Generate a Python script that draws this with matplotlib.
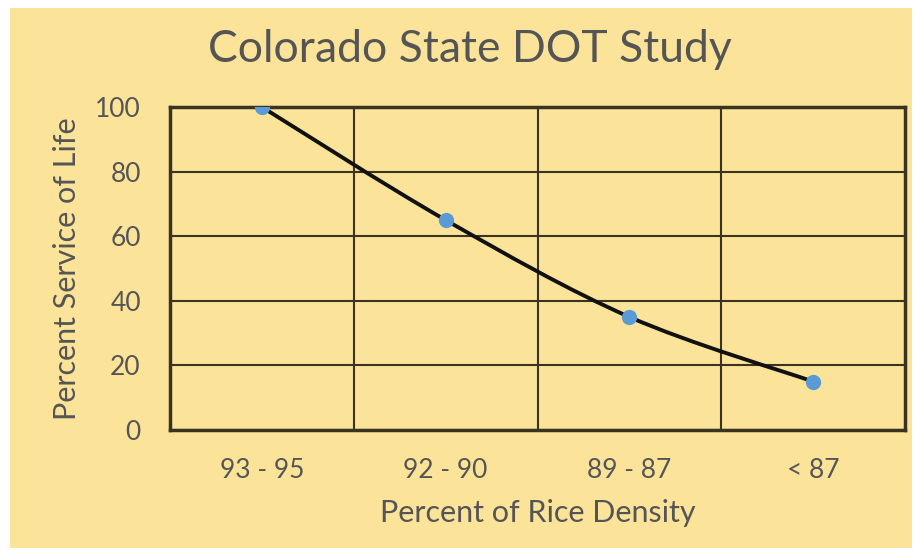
import matplotlib
matplotlib.use("Agg")
import matplotlib.pyplot as plt
from matplotlib.patches import Rectangle, PathPatch
from matplotlib.path import Path

# donnees
categories = ["93 - 95", "92 - 90", "89 - 87", "< 87"]
service_life = [100, 65, 35, 15]
y_ticks = [0, 20, 40, 60, 80, 100]

bg = "#FBE49A"
grid_col = "#3b3322"
text_col = "#555555"
plt.rcParams["font.family"] = ["Lato", "DejaVu Sans"]

fig = plt.figure(figsize=(9.15, 5.5), dpi=100, facecolor="white")
fig.patches.append(Rectangle((10 / 915, 2 / 550), 902 / 915, 540 / 550,
                             transform=fig.transFigure, facecolor=bg,
                             edgecolor="none", zorder=-10))

ax = fig.add_axes([170 / 915, 1 - 430 / 550, 735 / 915, 323 / 550])
ax.set_facecolor(bg)

xs = list(range(len(categories)))

# courbe lissee (bezier type catmull-rom, comme excel)
verts = [(xs[0], service_life[0])]
codes = [Path.MOVETO]
pts = list(zip(xs, service_life))
for i in range(len(pts) - 1):
    p0 = pts[i - 1] if i > 0 else pts[i]
    p1 = pts[i]
    p2 = pts[i + 1]
    p3 = pts[i + 2] if i + 2 < len(pts) else pts[i + 1]
    c1 = (p1[0] + (p2[0] - p0[0]) / 6, p1[1] + (p2[1] - p0[1]) / 6)
    c2 = (p2[0] - (p3[0] - p1[0]) / 6, p2[1] - (p3[1] - p1[1]) / 6)
    verts += [c1, c2, p2]
    codes += [Path.CURVE4] * 3
ax.add_patch(PathPatch(Path(verts, codes), facecolor="none",
                       edgecolor="#111111", lw=2.8, zorder=3))
ax.plot(xs, service_life, "o", color="#5B9BD5", markersize=10, zorder=4)

ax.set_xlim(-0.5, len(categories) - 0.5)
ax.set_ylim(0, 100)
ax.set_xticks(xs)
ax.set_xticklabels(categories)
ax.set_xticks([x + 0.5 for x in xs[:-1]], minor=True)
ax.set_yticks(y_ticks)
ax.grid(True, which="minor", axis="x", color=grid_col, lw=1.5)
ax.grid(True, which="major", axis="y", color=grid_col, lw=1.5)
ax.tick_params(which="both", length=0)
ax.tick_params(axis="x", pad=20, labelsize=19, colors=text_col)
ax.tick_params(axis="y", pad=21, labelsize=19, colors=text_col)
for s in ax.spines.values():
    s.set_color(grid_col)
    s.set_linewidth(2.5)

ax.set_xlabel("Percent of Rice Density", fontsize=22, color=text_col, labelpad=12)
ax.set_ylabel("Percent Service of Life", fontsize=22, color=text_col, labelpad=10)
fig.text(470 / 915, 1 - 50 / 550, "Colorado State DOT Study", fontsize=32,
         color=text_col, ha="center", va="center")

fig.savefig("out.png", dpi=100, facecolor="white")
